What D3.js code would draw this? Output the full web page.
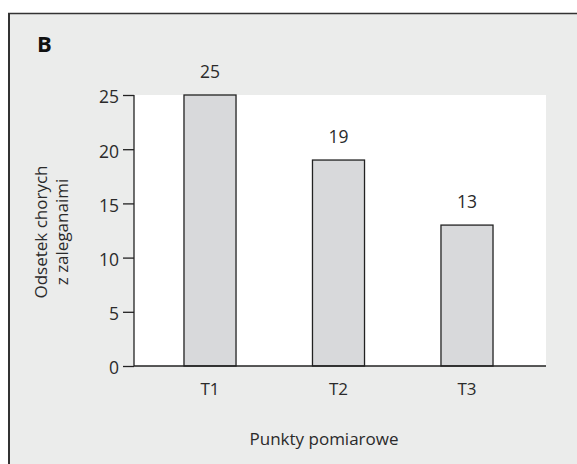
<!DOCTYPE html>
<html lang="pl">
<meta charset="utf-8">
<style>
  body { margin: 0; background: #fff; }
  text { font-family: "Open Sans", "Noto Sans", sans-serif; fill: #2a2a2a; }
</style>
<body>
<svg width="577" height="464"></svg>
<script src="https://d3js.org/d3.v7.min.js"></script>
<script>
  const categories = ['T1', 'T2', 'T3']
  const values = [25, 19, 13]
  const yTicks = [0, 5, 10, 15, 20, 25]

  const svg = d3.select('svg')
  const plotL = 134, plotR = 546, plotT = 95, plotB = 366

  // panel background + border
  svg.append('rect').attr('x', 8).attr('y', 13).attr('width', 577).attr('height', 464)
     .attr('fill', '#ebeceb')
  svg.append('line').attr('x1', 8).attr('x2', 577).attr('y1', 13.5).attr('y2', 13.5)
     .attr('stroke', '#333').attr('stroke-width', 1.5)
  svg.append('line').attr('x1', 9).attr('x2', 9).attr('y1', 13).attr('y2', 464)
     .attr('stroke', '#333').attr('stroke-width', 2)

  svg.append('text').attr('x', 37).attr('y', 52)
     .style('font-weight', 'bold').style('font-size', '22px').style('fill', '#111')
     .text('B')

  svg.append('rect').attr('x', plotL).attr('y', plotT)
     .attr('width', plotR - plotL).attr('height', plotB - plotT).attr('fill', '#fff')

  const x = d3.scaleBand().domain(categories).range([plotL, 543])
              .paddingInner(0.595).paddingOuter(0.389)
  const y = d3.scaleLinear().domain([0, 25]).range([plotB, plotT])

  const g = svg.append('g')
  g.selectAll('rect.bar').data(values).enter().append('rect')
   .attr('class', 'bar')
   .attr('x', (d, i) => x(categories[i]))
   .attr('y', d => y(d))
   .attr('width', x.bandwidth())
   .attr('height', d => y(0) - y(d))
   .attr('fill', '#d8d9db')
   .attr('stroke', '#222').attr('stroke-width', 1.3)

  g.selectAll('text.val').data(values).enter().append('text')
   .attr('class', 'val')
   .attr('x', (d, i) => x(categories[i]) + x.bandwidth() / 2)
   .attr('y', d => y(d) - 17)
   .attr('text-anchor', 'middle').style('font-size', '17.5px')
   .text(d => d)

  const yAxis = svg.append('g').attr('transform', `translate(${plotL},0)`)
    .call(d3.axisLeft(y).tickValues(yTicks).tickSize(11).tickPadding(4))
  yAxis.select('.domain').attr('d', `M0,${plotT}V${plotB}`).attr('stroke', '#222').attr('stroke-width', 1.3)
  yAxis.selectAll('.tick line').attr('stroke', '#222').attr('stroke-width', 1.3)
  yAxis.selectAll('.tick text').style('font-size', '17.5px').attr('dy', '0.45em')
       .style('font-family', '"Open Sans", sans-serif').attr('fill', '#2a2a2a')

  const xAxis = svg.append('g').attr('transform', `translate(0,${plotB})`)
    .call(d3.axisBottom(x).tickSize(0).tickPadding(0))
  xAxis.select('.domain').attr('d', `M${plotL},0H${plotR}`).attr('stroke', '#222').attr('stroke-width', 1.3)
  xAxis.selectAll('.tick text').style('font-size', '17px').attr('y', 29).attr('dy', 0)
       .style('font-family', '"Open Sans", sans-serif').attr('fill', '#2a2a2a')

  svg.append('text').attr('x', 324).attr('y', 445)
     .attr('text-anchor', 'middle').style('font-size', '17px')
     .text('Punkty pomiarowe')

  const yl = svg.append('text').attr('transform', 'translate(47,232) rotate(-90)')
     .attr('text-anchor', 'middle').style('font-size', '17px')
  yl.append('tspan').attr('x', 0).attr('dy', 0).text('Odsetek chorych')
  yl.append('tspan').attr('x', 0).attr('dy', 21).text('z zaleganaimi')
</script>
</body>
</html>
